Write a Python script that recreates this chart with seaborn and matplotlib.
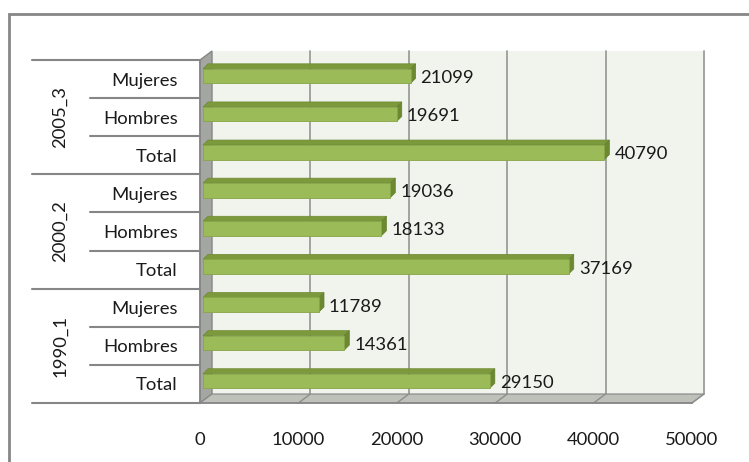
#  Barras horizontales por periodo y sexo (estilo Excel 3D)

import numpy as np
import pandas as pd

import matplotlib
matplotlib.use('Agg')
import matplotlib.pyplot as plt
import matplotlib.transforms as mtransforms
from matplotlib.patches import Polygon, Rectangle
import seaborn as sns

# _________________________________________________
# DATOS

grupos = ['2005_3', '2000_2', '1990_1']
sexos = ['Mujeres', 'Hombres', 'Total']
valores_2005 = [21099, 19691, 40790]
valores_2000 = [19036, 18133, 37169]
valores_1990 = [11789, 14361, 29150]
ticks_x = [0, 10000, 20000, 30000, 40000, 50000]

filas = []
for g, vals in zip(grupos, [valores_2005, valores_2000, valores_1990]):
    for s, v in zip(sexos, vals):
        filas.append({'grupo': g, 'sexo': s, 'clave': g + '|' + s, 'valor': v})
df = pd.DataFrame(filas)

# _________________________________________________
# ESTILO

sns.set_style('white')
plt.rcParams['font.family'] = ['Lato', 'DejaVu Sans']
FS = 13.3
GRIS = '#868686'
W, H = 749, 462
DX, DY = 12, 9      # profundidad del fondo (px)
BX, BY = 3, 3       # desplazamiento de la cara frontal de las barras
BD = 5              # profundidad de las barras

fig = plt.figure(figsize=(W / 100, H / 100), dpi=100)
fig.patch.set_facecolor('white')

# marco exterior
fig.add_artist(Rectangle((9 / W, -0.2), 1.2, 1.2 - 14 / H, transform=fig.transFigure,
                         fill=False, edgecolor=GRIS, linewidth=2, zorder=0))

left, right, top, bottom = 200, 692, 60, 403
ax = fig.add_axes([left / W, 1 - bottom / H, (right - left) / W, (bottom - top) / H])
ax.set_facecolor('none')
ax.set_zorder(3)

sns.barplot(data=df, x='valor', y='clave', order=list(df['clave']), color='#9BBB59',
            width=0.38, edgecolor='#86A548', linewidth=0.6, saturation=1, ax=ax, zorder=5)

ax.set_xlim(0, 50000)
ax.set_ylim(8.5, -0.5)
ax.set_autoscale_on(False)

ident = mtransforms.IdentityTransform()
def shift(dx, dy):
    return mtransforms.ScaledTranslation(dx / 100, dy / 100, fig.dpi_scale_trans)

# paredes: fondo, pared izquierda, suelo
a00 = ax.transAxes.transform((0, 0))
a10 = ax.transAxes.transform((1, 0))
a01 = ax.transAxes.transform((0, 1))
back = ax.transAxes + shift(DX, DY)
fig.add_artist(Rectangle((0, 0), 1, 1, transform=back, facecolor='#F1F4EC',
                         edgecolor='none', zorder=1))
fig.add_artist(Polygon([a00, a01, a01 + [DX, DY], a00 + [DX, DY]], closed=True,
                       transform=ident, facecolor='#A4A6A2', edgecolor=GRIS,
                       linewidth=1, zorder=2))
fig.add_artist(Polygon([a00, a10, a10 + [DX, DY], a00 + [DX, DY]], closed=True,
                       transform=ident, facecolor='#BEC0BA', edgecolor=GRIS,
                       linewidth=0.8, zorder=2))

# cuadrícula en el fondo y en el suelo
for t in ticks_x[1:]:
    p0 = ax.transData.transform((t, 8.5))
    fig.add_artist(plt.Line2D([p0[0] + DX, p0[0] + DX], [p0[1] + DY, a01[1] + DY],
                              transform=ident, color='#9C9C9C', linewidth=1.3, zorder=1.5))
    fig.add_artist(plt.Line2D([p0[0], p0[0] + DX], [p0[1], p0[1] + DY],
                              transform=ident, color='#8E8E8E', linewidth=1.0, zorder=2.5))

# barras en 3D: caras superior y lateral
barras = list(ax.patches)
tbar = ax.transData + shift(BX, BY)
for p in barras:
    p.set_transform(tbar)
    x0, y0, w, h = p.get_x(), p.get_y(), p.get_width(), p.get_height()
    tl = tbar.transform((x0, y0))
    tr_ = tbar.transform((x0 + w, y0))
    br = tbar.transform((x0 + w, y0 + h))
    ax.add_patch(Polygon([tl, tr_, tr_ + [BD, BD], tl + [BD, BD]], closed=True,
                         transform=ident, facecolor='#7C9A3C', edgecolor='#6E8A34',
                         linewidth=0.5, zorder=4, clip_on=False))
    ax.add_patch(Polygon([tr_, br, br + [BD, BD], tr_ + [BD, BD]], closed=True,
                         transform=ident, facecolor='#6C8932', edgecolor='#647F2E',
                         linewidth=0.5, zorder=4, clip_on=False))
    ax.annotate(f'{int(w)}', xy=(w, y0 + h / 2), xytext=(BX + BD + 5, BY - 2),
                textcoords='offset pixels', va='center', ha='left',
                fontsize=FS, color='#1a1a1a', annotation_clip=False)

# ejes
for s in ['top', 'right']:
    ax.spines[s].set_visible(False)
ax.spines['left'].set_color(GRIS)
ax.spines['bottom'].set_color(GRIS)
ax.spines['left'].set_linewidth(1.2)
ax.spines['bottom'].set_linewidth(1.2)

ax.set_xticks(ticks_x)
ax.set_xticklabels([str(t) for t in ticks_x])
ax.tick_params(axis='x', length=4, width=1, color=GRIS, pad=17, labelsize=FS,
               labelcolor='#1a1a1a')
ax.set_yticks(range(len(df)))
ax.set_yticklabels(df['sexo'])
ax.tick_params(axis='y', length=0, pad=16, labelsize=FS, labelcolor='#1a1a1a')
ax.set_xlabel('')
ax.set_ylabel('')

# etiquetas jerárquicas a la izquierda
ytr = ax.get_yaxis_transform()
for b in [-0.5, 2.5, 5.5, 8.5]:
    ax.plot([-168 / 492, 0], [b, b], transform=ytr, color=GRIS, linewidth=1.5, clip_on=False)
for b in [0.5, 1.5, 3.5, 4.5, 6.5, 7.5]:
    ax.plot([-110 / 492, 0], [b, b], transform=ytr, color=GRIS, linewidth=1.5, clip_on=False)
for i, g in enumerate(grupos):
    ax.text(-140 / 492, 3 * i + 1, g, transform=ytr, rotation=90, ha='center', va='center',
            fontsize=FS, color='#1a1a1a')

ax.set_xlim(0, 50000)
ax.set_ylim(8.5, -0.5)

plt.savefig('out.png', dpi=100)
